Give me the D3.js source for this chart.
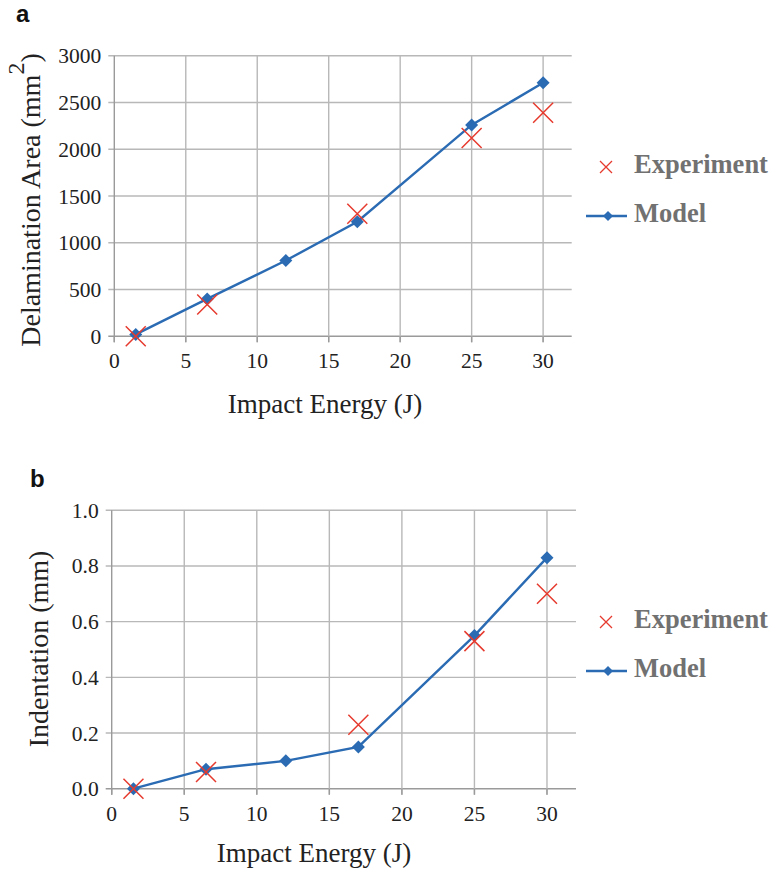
<!DOCTYPE html>
<html><head><meta charset="utf-8">
<script src="https://cdn.jsdelivr.net/npm/d3@7"></script>
<style>body{margin:0;background:#fff}svg{display:block}</style>
</head><body>
<svg id="c" width="773" height="871"></svg>
<script>
// Data
const energyModel = [1.5, 6.5, 12, 17, 25, 30];
const energyExp = [1.5, 6.5, 17, 25, 30];
const areaModel = [20, 400, 810, 1225, 2260, 2710];
const areaExp = [0, 340, 1310, 2120, 2390];
const indentModel = [0, 0.07, 0.10, 0.15, 0.55, 0.83];
const indentExp = [0, 0.06, 0.23, 0.53, 0.70];
const xTicks = [0, 5, 10, 15, 20, 25, 30];
const areaTicks = [0, 500, 1000, 1500, 2000, 2500, 3000];
const indentTicks = [0, 0.2, 0.4, 0.6, 0.8, 1.0];
const seriesNames = ["Experiment", "Model"];

const svg = d3.select("#c");
const BLUE = "#2a6bb3", RED = "#e63a2e", GRID = "#b8b8b8", AXIS = "#9a9a9a";
const SERIF = "'Liberation Serif','Times New Roman',serif";

function chart(o) {
  const x = d3.scaleLinear().domain([0, 32]).range([o.left, o.right]);
  const y = d3.scaleLinear().domain([0, o.ymax]).range([o.bottom, o.top]);
  const g = svg.append("g");
  // grid
  g.selectAll(".hg").data(o.yTicks).join("line")
    .attr("x1", o.left - 6).attr("x2", o.right)
    .attr("y1", d => y(d)).attr("y2", d => y(d))
    .attr("stroke", d => d === 0 ? AXIS : GRID).attr("stroke-width", 1.4);
  g.selectAll(".vg").data(xTicks).join("line")
    .attr("x1", d => x(d)).attr("x2", d => x(d))
    .attr("y1", o.top).attr("y2", o.bottom + 6)
    .attr("stroke", d => d === 0 ? AXIS : GRID).attr("stroke-width", 1.4);
  // x ticks below axis
  g.selectAll(".xt").data(xTicks).join("line")
    .attr("x1", d => x(d)).attr("x2", d => x(d))
    .attr("y1", o.bottom).attr("y2", o.bottom + 6)
    .attr("stroke", AXIS).attr("stroke-width", 1.4);
  // tick labels
  g.selectAll(".xl").data(xTicks).join("text")
    .attr("x", d => x(d)).attr("y", o.bottom + 32)
    .attr("text-anchor", "middle").attr("font-family", SERIF).attr("font-size", 21.5)
    .attr("fill", "#222").text(d => d);
  g.selectAll(".yl").data(o.yTicks).join("text")
    .attr("x", o.left - 13).attr("y", d => y(d) + 7.5)
    .attr("text-anchor", "end").attr("font-family", SERIF).attr("font-size", 21.5)
    .attr("fill", "#222").text(o.fmt);
  // axis titles
  g.append("text").attr("x", o.xtX).attr("y", o.xtY)
    .attr("text-anchor", "middle").attr("font-family", SERIF).attr("font-size", 27)
    .attr("fill", "#222").text("Impact Energy (J)");
  const yt = g.append("text")
    .attr("transform", `translate(${o.ytX},${o.ytY}) rotate(-90)`)
    .attr("text-anchor", "middle").attr("font-family", SERIF).attr("font-size", 28)
    .attr("fill", "#222");
  o.ytitle(yt);
  // panel label
  g.append("text").attr("x", o.lblX).attr("y", o.lblY)
    .attr("font-family", "'Liberation Sans',Arial,sans-serif").attr("font-weight", "bold")
    .attr("font-size", 24).attr("fill", "#111").text(o.label);
  // model line
  const line = d3.line().x((d, i) => x(energyModel[i])).y(d => y(d));
  g.append("path").attr("d", line(o.model)).attr("fill", "none")
    .attr("stroke", BLUE).attr("stroke-width", 2.4);
  const dm = 6.5;
  g.selectAll(".dm").data(o.model).join("path")
    .attr("d", (d, i) => {
      const cx = x(energyModel[i]), cy = y(d);
      return `M${cx},${cy - dm}L${cx + dm},${cy}L${cx},${cy + dm}L${cx - dm},${cy}Z`;
    }).attr("fill", BLUE);
  // experiment crosses
  const s = 10;
  g.selectAll(".ex").data(o.exp).join("path")
    .attr("d", (d, i) => {
      const cx = x(energyExp[i]), cy = y(d);
      return `M${cx - s},${cy - s}L${cx + s},${cy + s}M${cx + s},${cy - s}L${cx - s},${cy + s}`;
    }).attr("stroke", RED).attr("stroke-width", 1.5).attr("fill", "none");
  // legend
  const lx = 606, ly1 = o.legY, ly2 = o.legY + 49;
  const ss = 6;
  g.append("path").attr("d", `M${lx - ss},${ly1 - ss}L${lx + ss},${ly1 + ss}M${lx + ss},${ly1 - ss}L${lx - ss},${ly1 + ss}`)
    .attr("stroke", RED).attr("stroke-width", 1.3);
  g.append("line").attr("x1", lx - 20).attr("x2", lx + 21).attr("y1", ly2).attr("y2", ly2)
    .attr("stroke", BLUE).attr("stroke-width", 2.4);
  const ld = 5;
  g.append("path").attr("d", `M${lx + 2},${ly2 - ld}L${lx + 2 + ld},${ly2}L${lx + 2},${ly2 + ld}L${lx + 2 - ld},${ly2}Z`).attr("fill", BLUE);
  g.selectAll(".lt").data(seriesNames).join("text")
    .attr("x", 634).attr("y", (d, i) => (i === 0 ? ly1 : ly2) + 6)
    .attr("font-family", SERIF).attr("font-weight", "bold").attr("font-size", 26.5)
    .attr("fill", "#717171").text(d => d);
}

chart({
  left: 114.3, right: 571.7, top: 55.7, bottom: 336.3, ymax: 3000, yTicks: areaTicks,
  fmt: d => d, model: areaModel, exp: areaExp, label: "a", lblX: 16, lblY: 22,
  xtX: 325, xtY: 413, ytX: 40, ytY: 200, legY: 167,
  ytitle: t => {
    t.append("tspan").text("Delamination Area (mm");
    t.append("tspan").attr("dy", -16).attr("font-size", 24).text("2");
    t.append("tspan").attr("dy", 16).text(")");
  }
});
chart({
  left: 111.7, right: 576, top: 510.3, bottom: 788.7, ymax: 1.0, yTicks: indentTicks,
  fmt: d => d.toFixed(1), model: indentModel, exp: indentExp, label: "b", lblX: 30, lblY: 487,
  xtX: 314, xtY: 862, ytX: 48, ytY: 649, legY: 622,
  ytitle: t => t.text("Indentation (mm)")
});
</script>
</body></html>
